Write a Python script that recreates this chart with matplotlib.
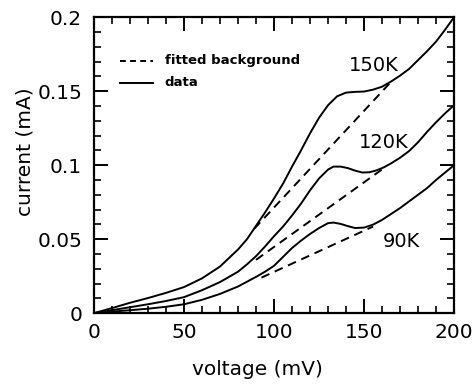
import numpy as np
import matplotlib
matplotlib.use('Agg')
import matplotlib.pyplot as plt
from matplotlib.ticker import MultipleLocator

plt.rcParams['font.family'] = ['DejaVu Sans']

# voltage (mV) / current (mA)
v_150 = [0, 5, 10, 20, 30, 40, 50, 60, 70, 80, 85, 90, 95, 100, 105, 110, 115, 120,
         125, 130, 135, 140, 145, 150, 155, 160, 165, 170, 175, 180, 185, 190, 195, 200]
i_150 = [0, 0.0017, 0.0034, 0.007, 0.0102, 0.0137, 0.0176, 0.0235, 0.0315, 0.043,
         0.050, 0.059, 0.068, 0.0775, 0.0875, 0.099, 0.110, 0.1215, 0.132, 0.1405,
         0.1465, 0.149, 0.1495, 0.1497, 0.151, 0.153, 0.1565, 0.1605, 0.165, 0.171,
         0.177, 0.1835, 0.1915, 0.200]

v_120 = [0, 10, 20, 30, 40, 50, 60, 70, 80, 85, 90, 95, 100, 105, 110, 115, 120, 125,
         130, 133, 137, 141, 145, 149, 153, 157, 161, 165, 170, 175, 180, 185, 190, 195, 200]
i_120 = [0, 0.002, 0.004, 0.006, 0.0082, 0.0108, 0.0155, 0.021, 0.028, 0.033, 0.0385,
         0.045, 0.052, 0.0585, 0.066, 0.074, 0.083, 0.091, 0.097, 0.099, 0.099, 0.098,
         0.0963, 0.095, 0.0952, 0.0965, 0.0985, 0.1012, 0.105, 0.1095, 0.1155, 0.1225,
         0.129, 0.135, 0.1405]

v_90 = [0, 10, 20, 30, 40, 50, 60, 70, 80, 90, 95, 100, 105, 110, 115, 120, 125, 130,
        133, 137, 141, 145, 150, 155, 160, 165, 170, 175, 180, 185, 190, 195, 200]
i_90 = [0, 0.001, 0.002, 0.003, 0.0043, 0.006, 0.009, 0.013, 0.018, 0.0245, 0.028,
        0.032, 0.038, 0.044, 0.049, 0.0535, 0.0575, 0.0608, 0.0612, 0.0603, 0.0588,
        0.0575, 0.0578, 0.0598, 0.063, 0.067, 0.071, 0.0755, 0.080, 0.0845, 0.090,
        0.095, 0.100]

# fitted background lines (start, end)
bg_v = [[89, 164], [90, 161], [93, 155]]
bg_i = [[0.057, 0.155], [0.036, 0.098], [0.024, 0.0585]]

labels = ['150K', '120K', '90K']
label_v = [155.5, 160.7, 170.5]
label_i = [0.167, 0.1154, 0.0485]

fig = plt.figure(figsize=(4.77, 3.89), dpi=100)
ax = fig.add_axes([0.197, 0.195, 0.755, 0.761])

lw = 1.4
curves = [(v_150, i_150), (v_120, i_120), (v_90, i_90)]
for k, (v, i) in enumerate(curves):
    ax.plot(v, i, color='black', lw=lw, solid_joinstyle='round')
    ax.plot(bg_v[k], bg_i[k], color='black', lw=lw, dashes=(4.5, 3))
    ax.text(label_v[k], label_i[k], labels[k], fontsize=14,
            ha='center', va='center')

# legend drawn by hand like the original
ax.plot([14.4, 32.7], [0.1705, 0.1705], color='black', lw=lw, dashes=(3, 2.2))
ax.text(39.3, 0.1705, 'fitted background', fontsize=9.5, fontweight='bold', va='center')
ax.plot([14.4, 32.7], [0.1556, 0.1556], color='black', lw=lw)
ax.text(39.3, 0.1556, 'data', fontsize=9.5, fontweight='bold', va='center')

ax.set_xlim(0, 200)
ax.set_ylim(0, 0.2)
ax.xaxis.set_minor_locator(MultipleLocator(10))
ax.yaxis.set_minor_locator(MultipleLocator(0.01))
ax.set_yticks([0, 0.05, 0.1, 0.15, 0.2])
ax.set_yticklabels(['0', '0.05', '0.1', '0.15', '0.2'])
ax.set_xticks([0, 50, 100, 150, 200])
ax.set_xticklabels(['0', '50', '100', '150', '200'])
ax.tick_params(which='both', direction='in', top=True, right=True, labelsize=14.5)
ax.tick_params(which='major', length=10, width=1.4)
ax.tick_params(which='minor', length=5, width=1.2)
ax.tick_params(axis='x', pad=7)
ax.tick_params(axis='y', pad=8.5)
for s in ax.spines.values():
    s.set_linewidth(1.6)

ax.set_xlabel('voltage (mV)', fontsize=14.5)
ax.set_ylabel('current (mA)', fontsize=14.5)
ax.xaxis.set_label_coords(0.453, -0.158)
ax.yaxis.set_label_coords(-0.165, 0.545)

fig.savefig('out.png', dpi=100)
